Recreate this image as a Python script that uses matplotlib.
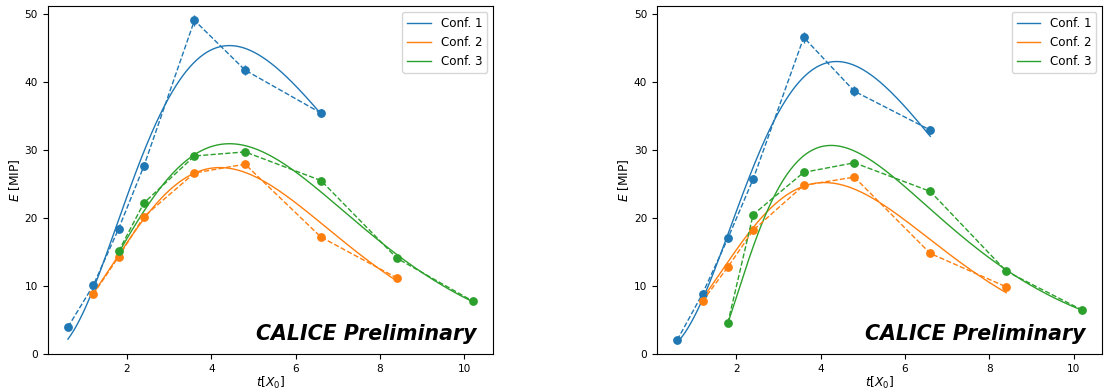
import numpy as np
import matplotlib.pyplot as plt

# depth positions (radiation lengths)
t1 = [0.6, 1.2, 1.8, 2.4, 3.6, 4.8, 6.6]
t2 = [1.2, 1.8, 2.4, 3.6, 4.8, 6.6, 8.4]
t3 = [1.8, 2.4, 3.6, 4.8, 6.6, 8.4, 10.2]

# left panel
left_e1 = [4.0, 10.1, 18.4, 27.6, 49.0, 41.7, 35.4]
left_e2 = [8.8, 14.3, 20.2, 26.6, 27.9, 17.2, 11.2]
left_e3 = [15.1, 22.2, 29.1, 29.7, 25.5, 14.1, 7.8]

# right panel
right_e1 = [2.1, 8.9, 17.0, 25.7, 46.5, 38.6, 32.9]
right_e2 = [7.8, 12.8, 18.2, 24.8, 26.0, 14.8, 9.9]
right_e3 = [4.6, 20.5, 26.7, 28.1, 23.9, 12.2, 6.5]

err1 = [0.3, 0.4, 0.5, 0.6, 0.8, 0.7, 0.6]
err2 = [0.2, 0.2, 0.3, 0.3, 0.3, 0.3, 0.2]
err3 = [0.2, 0.3, 0.3, 0.3, 0.3, 0.2, 0.2]

# shower profile fit parameters: E_max, t_max, alpha, t0
left_fit = [(45.3, 4.43, 2.8, -0.05), (27.4, 4.2, 5.06, -1.5), (30.9, 4.43, 4.1, -1.0)]
right_fit = [(42.96, 4.38, 3.17, -0.1), (25.2, 4.09, 4.84, -1.3), (30.65, 4.25, 1.58, 1.45)]

labels = ['Conf. 1', 'Conf. 2', 'Conf. 3']
colors = ['tab:blue', 'tab:orange', 'tab:green']


def profile(t, p):
    emax, tmax, a, t0 = p
    s = (t - t0) / (tmax - t0)
    return emax * s ** a * np.exp(a * (1 - s))


def draw(ax, data, errs, fits):
    ts = [t1, t2, t3]
    for i in range(3):
        ax.errorbar(ts[i], data[i], yerr=errs[i], fmt='o--', color=colors[i],
                    markersize=5.3, linewidth=1)
    for i in range(3):
        tt = np.linspace(ts[i][0], ts[i][-1], 300)
        ax.plot(tt, profile(tt, fits[i]), color=colors[i], linewidth=1, label=labels[i])
    ax.set_ylim(0, 51.1)
    ax.set_xticks([2, 4, 6, 8, 10])
    ax.tick_params(labelsize=7.6)
    ax.set_xlabel(r'$t[X_0]$', fontsize=8.8, labelpad=0.5)
    ax.set_ylabel(r'$E$ [MIP]', fontsize=8.8, labelpad=2)
    ax.legend(loc='upper right', fontsize=8.6)
    ax.text(0.963, 0.04, 'CALICE Preliminary', transform=ax.transAxes,
            ha='right', va='baseline', fontsize=14.8, fontweight='bold', fontstyle='italic')


fig = plt.figure(figsize=(11.04, 3.9), dpi=100)
ax1 = fig.add_axes([0.0432, 0.0915, 0.4034, 0.893])
ax2 = fig.add_axes([0.5951, 0.0915, 0.4034, 0.893])

draw(ax1, [left_e1, left_e2, left_e3], [err1, err2, err3], left_fit)
draw(ax2, [right_e1, right_e2, right_e3], [err1, err2, err3], right_fit)

fig.savefig('out.png', dpi=100)
